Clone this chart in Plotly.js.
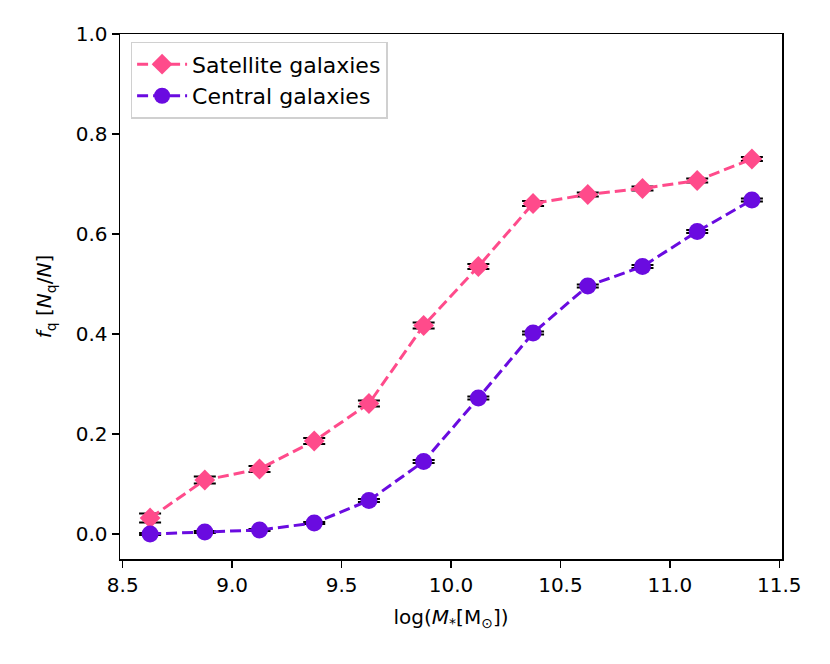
<!DOCTYPE html>
<html>
<head>
<meta charset="utf-8">
<script src="https://cdn.plot.ly/plotly-3.0.1.min.js"></script>
<style>
  html, body { margin: 0; padding: 0; background: #fff; }
  #chart { width: 830px; height: 664px; }
</style>
</head>
<body>
<div id="chart"></div>
<script>
// Bin centres in log stellar mass
const massBins = [8.625, 8.875, 9.125, 9.375, 9.625, 9.875, 10.125, 10.375, 10.625, 10.875, 11.125, 11.375];

// Quenched fractions
const satFrac = [0.032, 0.108, 0.130, 0.186, 0.261, 0.417, 0.535, 0.661, 0.679, 0.691, 0.707, 0.750];
const satErr = [0.009, 0.007, 0.006, 0.006, 0.006, 0.006, 0.005, 0.005, 0.004, 0.004, 0.004, 0.004];

const cenFrac = [0.000, 0.004, 0.008, 0.022, 0.067, 0.145, 0.272, 0.402, 0.496, 0.535, 0.605, 0.668];
const cenErr = [0.002, 0.002, 0.002, 0.002, 0.003, 0.003, 0.003, 0.003, 0.003, 0.003, 0.003, 0.003];

const satColor = '#ff4b8b';
const cenColor = '#6a0be0';

let satellites = {
    x: massBins,
    y: satFrac,
    name: 'Satellite galaxies',
    type: 'scatter',
    mode: 'lines+markers',
    line: { color: satColor, width: 3, dash: '11px,5px' },
    marker: { symbol: 'diamond', size: 16, color: satColor },
    error_y: { type: 'data', array: satErr, color: '#000', thickness: 2, width: 11 }
};

let centrals = {
    x: massBins,
    y: cenFrac,
    name: 'Central galaxies',
    type: 'scatter',
    mode: 'lines+markers',
    line: { color: cenColor, width: 3, dash: '11px,5px' },
    marker: { symbol: 'circle', size: 17, color: cenColor },
    error_y: { type: 'data', array: cenErr, color: '#000', thickness: 2, width: 11 }
};

let layout = {
    width: 830,
    height: 664,
    paper_bgcolor: '#fff',
    plot_bgcolor: '#fff',
    font: { family: 'DejaVu Sans', size: 20, color: '#000' },
    margin: { l: 120, r: 48, t: 34, b: 105 },
    showlegend: true,
    legend: {
        x: 0.016, y: 0.985,
        xanchor: 'left', yanchor: 'top',
        bgcolor: 'rgba(255,255,255,0.8)',
        bordercolor: '#d0d0d0',
        borderwidth: 1.5,
        font: { size: 22 },
        itemwidth: 50,
        tracegroupgap: 4
    },
    xaxis: {
        range: [8.4875, 11.5125],
        tickvals: [8.5, 9.0, 9.5, 10.0, 10.5, 11.0, 11.5],
        ticktext: ['8.5', '9.0', '9.5', '10.0', '10.5', '11.0', '11.5'],
        ticks: 'outside', ticklen: 7, tickwidth: 1.5, tickcolor: '#000',
        showline: true, linecolor: '#000', linewidth: 1.5, mirror: true,
        showgrid: false, zeroline: false,
        tickfont: { size: 20 },
        title: { text: 'log(<i>M</i><sub>*</sub>[M<sub>⊙</sub>])', font: { size: 20 }, standoff: 14 }
    },
    yaxis: {
        range: [-0.05, 1.0],
        tickvals: [0.0, 0.2, 0.4, 0.6, 0.8, 1.0],
        ticktext: ['0.0', '0.2', '0.4', '0.6', '0.8', '1.0'],
        ticks: 'outside', ticklen: 7, tickwidth: 1.5, tickcolor: '#000',
        showline: true, linecolor: '#000', linewidth: 1.5, mirror: true,
        showgrid: false, zeroline: false,
        tickfont: { size: 20 },
        title: { text: '<i>f</i><sub>q</sub> [<i>N</i><sub>q</sub>/<i>N</i>]', font: { size: 20 }, standoff: 18 }
    }
};

Plotly.newPlot('chart', [satellites, centrals], layout, { displayModeBar: false, staticPlot: true });
</script>
</body>
</html>
